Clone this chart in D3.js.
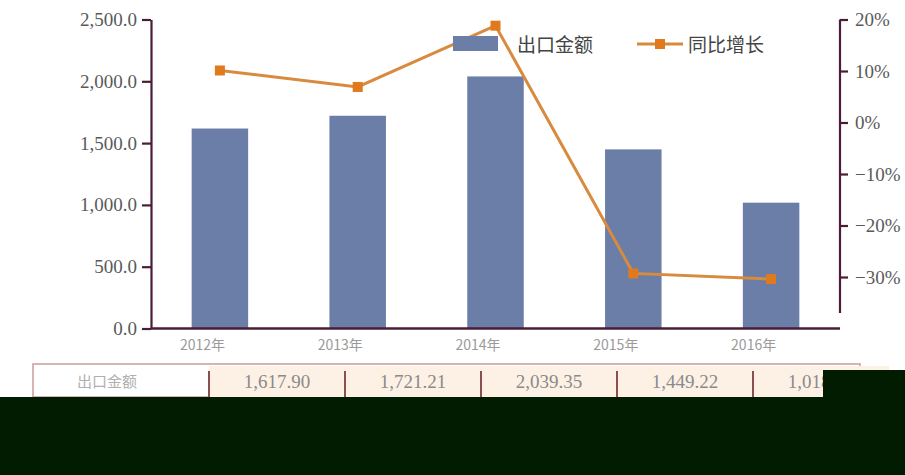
<!DOCTYPE html>
<html>
<head>
<meta charset="utf-8">
<script src="https://cdn.jsdelivr.net/npm/d3@7"></script>
<style>
  body { margin: 0; background: #fff; }
  .axe path, .axe line { stroke: #4a1c36; stroke-width: 2.2; }
  .axe text { font-family: "Liberation Serif", serif; font-size: 19px; fill: #5a5a5a; }
</style>
</head>
<body>
<div id="graph"></div>
<script>
// Données
var annees = ["2012年", "2013年", "2014年", "2015年", "2016年"];
var montants = [1617.90, 1721.21, 2039.35, 1449.22, 1018.00];
var croissance = [10.1, 6.9, 18.8, -29.3, -30.4];
var ticksGauche = [0, 500, 1000, 1500, 2000, 2500];
var ticksDroite = [-30, -20, -10, 0, 10, 20];
var nomSerieBarres = "出口金额";
var nomSerieLigne = "同比增长";

var donnees = annees.map(function(a, i) {
  return { annee: a, montant: montants[i], taux: croissance[i] };
});

var marges = {haut: 19.5, gauche: 151},
    largeurTotale = 905,
    hauteurTotale = 475,
    largeurInterne = 689,
    hauteurInterne = 309;

var echelleX = d3.scaleBand()
    .domain(annees)
    .range([0, largeurInterne])
    .paddingInner(0.59)
    .paddingOuter(0.295);

var echelleY = d3.scaleLinear()
    .domain([0, 2500])
    .range([hauteurInterne, 0]);

var echelleY2 = d3.scaleLinear()
    .domain([-40, 20])
    .range([hauteurInterne, 0]);

var svg = d3.select("#graph").append("svg")
    .attr("width", largeurTotale)
    .attr("height", hauteurTotale);

var graphique = svg.append("g")
    .attr("transform", "translate(" + marges.gauche + "," + marges.haut + ")");

// Barres
graphique.selectAll(".bar")
  .data(donnees)
  .enter()
  .append("rect")
  .attr("class", "bar")
  .attr("x", function(d) { return echelleX(d.annee); })
  .attr("width", echelleX.bandwidth())
  .attr("y", function(d) { return echelleY(d.montant); })
  .attr("height", function(d) { return hauteurInterne - echelleY(d.montant); })
  .attr("fill", "#6a7ea7");

// Axe gauche
graphique.append("g")
    .attr("class", "axe")
    .call(d3.axisLeft(echelleY)
      .tickValues(ticksGauche)
      .tickSize(9).tickSizeOuter(0)
      .tickPadding(5)
      .tickFormat(d3.format(",.1f")));

// Axe droit
var axeDroit = graphique.append("g")
    .attr("class", "axe")
    .attr("transform", "translate(" + largeurInterne + ",0)")
    .call(d3.axisRight(echelleY2)
      .tickValues(ticksDroite)
      .tickSize(8).tickSizeOuter(0)
      .tickPadding(7)
      .tickFormat(function(d) { return (d < 0 ? "\u2212" + (-d) : d) + "%"; }));
axeDroit.select("path").attr("d", "M0," + echelleY2(20) + "V" + echelleY2(-37));

// Axe du bas
graphique.append("line")
    .attr("x1", 0).attr("x2", largeurInterne)
    .attr("y1", hauteurInterne).attr("y2", hauteurInterne)
    .attr("stroke", "#4a1c36")
    .attr("stroke-width", 2.4);

graphique.selectAll(".lblX")
  .data(annees)
  .enter()
  .append("text")
  .attr("class", "lblX")
  .attr("x", function(d) { return echelleX(d) + echelleX.bandwidth() / 2 - 40; })
  .attr("y", hauteurInterne + 21)
  .style("font-family", "Noto Sans CJK SC, sans-serif")
  .style("font-size", "14px")
  .style("fill", "#9a9a9a")
  .text(function(d) { return d; });

// Ligne de croissance
var ligne = d3.line()
    .x(function(d) { return echelleX(d.annee) + echelleX.bandwidth() / 2; })
    .y(function(d) { return echelleY2(d.taux); });

graphique.append("path")
    .datum(donnees)
    .attr("d", ligne)
    .attr("fill", "none")
    .attr("stroke", "#d88a3e")
    .attr("stroke-width", 3);

graphique.selectAll(".pt")
  .data(donnees)
  .enter()
  .append("rect")
  .attr("class", "pt")
  .attr("x", function(d) { return echelleX(d.annee) + echelleX.bandwidth() / 2 - 5; })
  .attr("y", function(d) { return echelleY2(d.taux) - 5; })
  .attr("width", 10).attr("height", 10)
  .attr("fill", "#e07a1f");

// Légende
var legende = svg.append("g");
legende.append("rect")
    .attr("x", 453).attr("y", 36).attr("width", 45).attr("height", 15)
    .attr("fill", "#6a7ea7");
legende.append("text")
    .attr("x", 517).attr("y", 52)
    .style("font-family", "Noto Sans CJK SC, sans-serif")
    .style("font-size", "19px").style("fill", "#444")
    .text(nomSerieBarres);
legende.append("line")
    .attr("x1", 637).attr("x2", 683).attr("y1", 44).attr("y2", 44)
    .attr("stroke", "#d88a3e").attr("stroke-width", 3);
legende.append("rect")
    .attr("x", 655).attr("y", 39).attr("width", 10).attr("height", 10)
    .attr("fill", "#e07a1f");
legende.append("text")
    .attr("x", 688).attr("y", 52)
    .style("font-family", "Noto Sans CJK SC, sans-serif")
    .style("font-size", "19px").style("fill", "#444")
    .text(nomSerieLigne);

// Tableau de données sous le graphique
var echelleTab = d3.scaleBand()
    .domain(annees)
    .range([209, 889]);

var tableau = svg.append("g");
tableau.append("rect")
    .attr("x", 33).attr("y", 364).attr("width", 827).attr("height", 33)
    .attr("fill", "#fff").attr("stroke", "#c99c9c").attr("stroke-width", 1.5);
tableau.append("text")
    .attr("x", 107).attr("y", 387)
    .attr("text-anchor", "middle")
    .style("font-family", "Noto Sans CJK SC, sans-serif")
    .style("font-size", "15px").style("fill", "#b0b0b0")
    .text(nomSerieBarres);
tableau.selectAll(".cell")
  .data(donnees)
  .enter()
  .append("rect")
  .attr("class", "cell")
  .attr("x", function(d) { return echelleTab(d.annee); })
  .attr("y", 366)
  .attr("width", echelleTab.bandwidth())
  .attr("height", 31)
  .attr("fill", "#fdf1e6");
tableau.selectAll(".sep")
  .data(donnees)
  .enter()
  .append("line")
  .attr("class", "sep")
  .attr("x1", function(d) { return echelleTab(d.annee); })
  .attr("x2", function(d) { return echelleTab(d.annee); })
  .attr("y1", 371).attr("y2", 397)
  .attr("stroke", "#8c4f4f").attr("stroke-width", 2);
tableau.selectAll(".val")
  .data(donnees)
  .enter()
  .append("text")
  .attr("class", "val")
  .attr("x", function(d) { return echelleTab(d.annee) + echelleTab.bandwidth() / 2; })
  .attr("y", 388)
  .attr("text-anchor", "middle")
  .style("font-family", "Liberation Serif, serif")
  .style("font-size", "19px").style("fill", "#8a8a8a")
  .text(function(d) { return d3.format(",.2f")(d.montant); });

// Zone sombre en bas de l'image
svg.append("rect")
    .attr("x", 823).attr("y", 370).attr("width", 82).attr("height", 30)
    .attr("fill", "#021c02");
svg.append("rect")
    .attr("x", 0).attr("y", 397).attr("width", 905).attr("height", 78)
    .attr("fill", "#021c02");
</script>
</body>
</html>
